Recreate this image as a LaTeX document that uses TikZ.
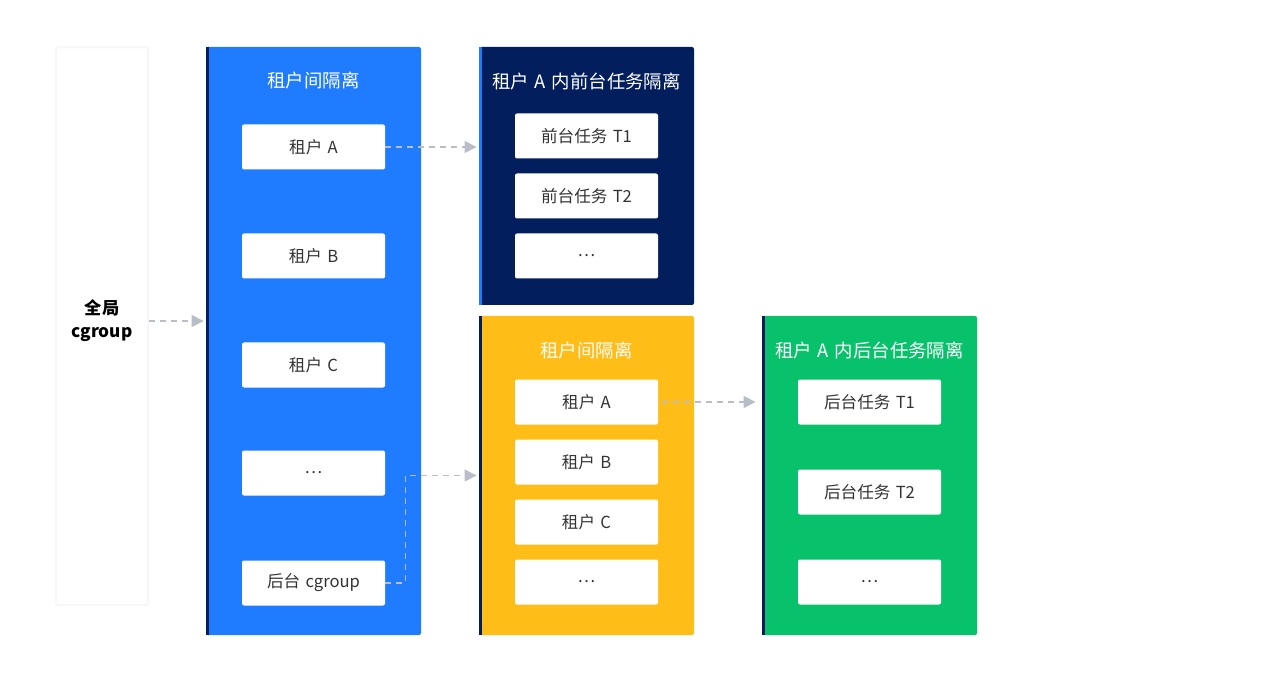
\documentclass[tikz,border=0pt]{standalone}
\usepackage{fontspec}
\setmainfont{Noto Sans CJK SC}
\usetikzlibrary{arrows.meta}
\definecolor{tenantblue}{RGB}{32,124,255}
\definecolor{fgnavy}{RGB}{2,30,92}
\definecolor{bgyellow}{RGB}{255,190,23}
\definecolor{taskgreen}{RGB}{8,193,107}
\definecolor{linkgray}{RGB}{184,189,200}
\definecolor{boxtext}{RGB}{51,51,51}
\newcommand{\gap}{\hspace{0.32em}}
\tikzset{
  panel/.style={rectangle, rounded corners=1pt, minimum width=107.5pt, inner sep=0pt},
  item/.style={rectangle, rounded corners=1pt, fill=white, minimum width=71.5pt, minimum height=22.5pt,
    inner sep=0pt, text=boxtext, font=\fontsize{8.3}{10}\selectfont},
  paneltitle/.style={text=white, font=\fontsize{9.2}{11}\selectfont},
  stripe/.style={line width=1.5pt, shorten <=0.2pt, shorten >=0.2pt},
  link/.style={dash pattern=on 3pt off 2.5pt, linkgray, line width=0.6pt},
  linkarrow/.style={link, -{Triangle[length=6pt,width=6pt]}},
}
\begin{document}
\begin{tikzpicture}[x=0.5pt, y=-0.5pt]
  \useasboundingbox (0,0) rectangle (1280,684);
  % Global panel
  \node[panel, fill=white, draw={rgb,255:red,246;green,247;blue,251}, line width=1.2pt,
    minimum width=46pt, minimum height=279pt] (global) at (102,326) {};
  \node[font=\bfseries\fontsize{8.6}{11.5}\selectfont, align=center] (gtext) at (102,321) {全局\\cgroup};
  % Tenant isolation panel
  \node[panel, fill=tenantblue, minimum height=294pt] (tenant) at (313.5,341) {};
  \draw[stripe, fgnavy] ([xshift=0.75pt]tenant.north west) -- ([xshift=0.75pt]tenant.south west);
  \node[paneltitle] (ttitle) at (313.5,81) {租户间隔离};
  \foreach \y/\t/\n in {147/租户\gap A/ta, 256/租户\gap B/tb, 365/租户\gap C/tc, 473/…/td, 583/后台\gap cgroup/bg}
    \node[item] (\n) at (313.5,\y) {\t};
  % Foreground tasks of tenant A
  \node[panel, fill=fgnavy, minimum height=129pt] (fg) at (586.5,176) {};
  \draw[stripe, tenantblue] ([xshift=0.75pt]fg.north west) -- ([xshift=0.75pt]fg.south west);
  \node[paneltitle] (fgtitle) at (586.5,82) {租户\gap A\gap 内前台任务隔离};
  \foreach \y/\t/\n in {136/前台任务\gap T1/f1, 196/前台任务\gap T2/f2, 256/…/f3}
    \node[item] (\n) at (586.5,\y) {\t};
  % Background cgroup: tenant isolation
  \node[panel, fill=bgyellow, minimum height=159.5pt] (yl) at (586.5,475.5) {};
  \draw[stripe, fgnavy] ([xshift=0.75pt]yl.north west) -- ([xshift=0.75pt]yl.south west);
  \node[paneltitle] (yltitle) at (586.5,350) {租户间隔离};
  \foreach \y/\t/\n in {402/租户\gap A/ya, 462/租户\gap B/yb, 522/租户\gap C/yc, 582/…/yd}
    \node[item] (\n) at (586.5,\y) {\t};
  % Background tasks of tenant A
  \node[panel, fill=taskgreen, minimum height=159.5pt] (gr) at (869.5,475.5) {};
  \draw[stripe, fgnavy] ([xshift=0.75pt]gr.north west) -- ([xshift=0.75pt]gr.south west);
  \node[paneltitle] (grtitle) at (869.5,350) {租户\gap A\gap 内后台任务隔离};
  \foreach \y/\t/\n in {402/后台任务\gap T1/g1, 492/后台任务\gap T2/g2, 582/…/g3}
    \node[item] (\n) at (869.5,\y) {\t};
  % Links
  \draw[linkarrow] (gtext -| global.east) -- ([xshift=-1pt]gtext -| tenant.west);
  \draw[linkarrow] (ta.east) -- ([xshift=-1pt]ta.east -| fg.west);
  \draw[linkarrow] ([xshift=2pt]ya.east) -- ([xshift=-3pt]ya.east -| gr.west);
  \draw[linkarrow] (bg.east) -- ++(20,0) |- ([xshift=-1pt]yl.west);
\end{tikzpicture}
\end{document}
